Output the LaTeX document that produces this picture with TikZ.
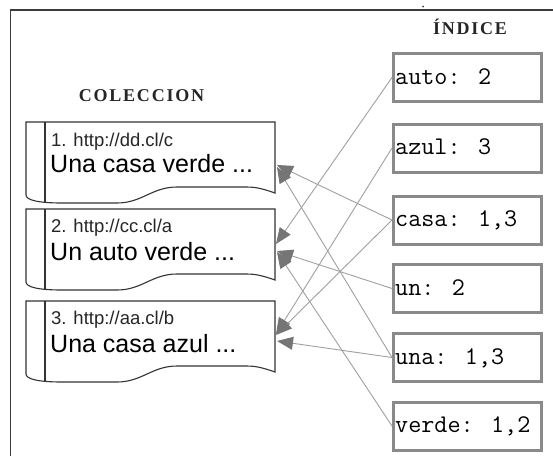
\documentclass[tikz,border=0pt]{standalone}
\usepackage{fontspec}
\setmainfont{Liberation Serif}
\newfontfamily\sansf{Liberation Sans}
\newfontfamily\labf[LetterSpace=10]{Liberation Serif}
\usetikzlibrary{arrows.meta}
\definecolor{boxgray}{HTML}{8A8A8A}
\definecolor{linegray}{HTML}{A0A0A0}
\definecolor{headgray}{HTML}{757575}
\definecolor{framegray}{HTML}{3C3C3C}
\begin{document}
\begin{tikzpicture}[x=1pt,y=-1pt,
  idx/.style={draw=boxgray, line width=3pt, minimum width=148pt, minimum height=48pt, inner sep=0pt},
  idxtext/.style={anchor=base west, inner sep=0pt, font=\ttfamily\fontsize{25.4}{27}\selectfont},
  urltext/.style={anchor=base west, inner sep=0pt, font=\sansf\fontsize{18.5}{20}\selectfont, text=black!85},
  maintext/.style={anchor=base west, inner sep=0pt, font=\sansf\fontsize{25}{28}\selectfont},
  titletext/.style={anchor=base, inner sep=0pt, font=\labf\bfseries\fontsize{18}{20}\selectfont, text=black!85},
  docshape/.style={draw=black!80, line width=1.1pt, fill=white},
  link/.style={draw=linegray, line width=0.9pt, -{Triangle[length=16pt,width=13pt,color=headgray]}},
  docpic/.pic={
    \draw[docshape] (0,0) -- (249,0) -- (249,71) .. controls (235,66) and (228,65) .. (221,65) -- (151,65) .. controls (126,65) and (116,81) .. (91,81) -- (36,81) .. controls (12,81) and (0,78) .. (0,73) -- cycle;
    \draw[docshape] (19,0) -- (19,80);
  }
  ]
\useasboundingbox[fill=white] (0,0) rectangle (553,456);
% frame
\draw[framegray, line width=1.4pt] (10.5,456) -- (10.5,10) -- (553,10);
\fill[framegray] (423,6.5) circle (1pt);
% titles
\node[titletext] (coltitle) at (141.5,101) {COLECCION};
\node[titletext] (idxtitle) at (470,34) {ÍNDICE};
% documents
\pic at (26,122) {docpic};
\pic at (26,209) {docpic};
\pic at (26,301) {docpic};
\node[urltext] (u1) at (51,146.5) {1. http://dd.cl/c};
\node[maintext] (m1) at (50,172) {Una casa verde ...};
\node[urltext] (u2) at (51,232.5) {2. http://cc.cl/a};
\node[maintext] (m2) at (50,260) {Un auto verde ...};
\node[urltext] (u3) at (51,324) {3. http://aa.cl/b};
\node[maintext] (m3) at (50,352) {Una casa azul ...};
% arrow targets
\coordinate (d1c) at (277,165);
\coordinate (d1u) at (277,167);
\coordinate (d2a) at (276,244);
\coordinate (d2u) at (277,251);
\coordinate (d2v) at (277,252);
\coordinate (d3a) at (276,334);
\coordinate (d3c) at (276,335);
\coordinate (d3u) at (277,341);
% index boxes
\node[idx] (auto) at (467.5,77.5) {};
\node[idx] (azul) at (467.5,148) {};
\node[idx] (casa) at (467.5,220) {};
\node[idx] (un) at (467.5,288.5) {};
\node[idx] (una) at (467.5,357.5) {};
\node[idx] (verde) at (467.5,426) {};
\node[idxtext] (tauto) at (395,84) {auto: 2};
\node[idxtext] (tazul) at (395,154.5) {azul: 3};
\node[idxtext] (tcasa) at (395,226.5) {casa: 1,3};
\node[idxtext] (tun) at (395,295) {un: 2};
\node[idxtext] (tuna) at (395,364) {una: 1,3};
\node[idxtext] (tverde) at (395,432.5) {verde: 1,2};
% links
\draw[link] (auto.west) -- (d2a);
\draw[link] (azul.west) -- (d3a);
\draw[link] (casa.west) -- (d1c);
\draw[link] (casa.west) -- (d3c);
\draw[link] (un.west) -- (d2u);
\draw[link] (una.west) -- (d1u);
\draw[link] (una.west) -- (d3u);
\draw[link] (verde.west) -- (d2v);
\end{tikzpicture}
\end{document}
